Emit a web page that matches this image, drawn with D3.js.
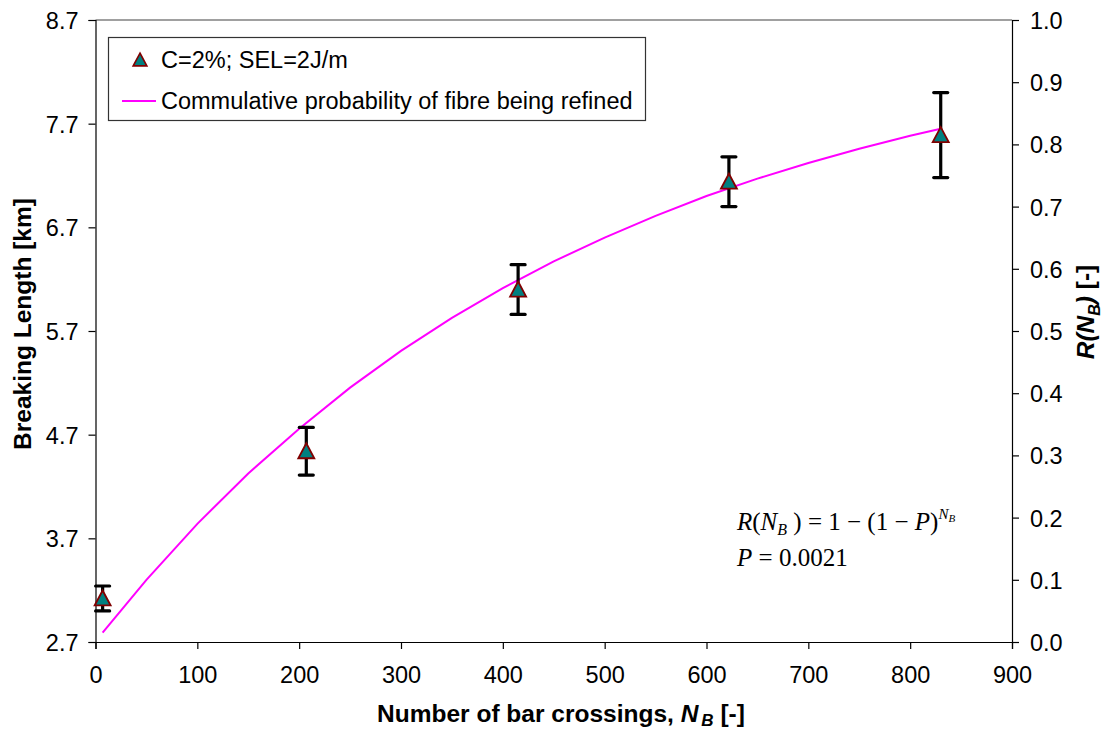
<!DOCTYPE html>
<html>
<head>
<meta charset="utf-8">
<script src="https://cdn.jsdelivr.net/npm/d3@7"></script>
<style>
  body { margin: 0; background: #fff; }
  text { font-family: "Liberation Sans", Arial, sans-serif; }
</style>
</head>
<body>
<div id="chart-area"></div>
<script>
// measured points: number of bar crossings vs breaking length (km)
const crossings = [7, 207, 415, 622, 830]
const breakingLength = [3.12, 4.54, 6.10, 7.14, 7.59]
const errLength = [0.12, 0.23, 0.24, 0.24, 0.41]

// cumulative probability curve (right axis)
const curveN = [7, 50, 100, 150, 200, 250, 300, 350, 400, 450, 500, 550, 600, 650, 700, 750, 800, 830]
const curveR = [0.015, 0.100, 0.190, 0.271, 0.343, 0.409, 0.468, 0.521, 0.569, 0.612, 0.650, 0.685, 0.717, 0.745, 0.770, 0.793, 0.814, 0.825]

const xTicks = [0, 100, 200, 300, 400, 500, 600, 700, 800, 900]
const yLeftTicks = [2.7, 3.7, 4.7, 5.7, 6.7, 7.7, 8.7]
const yRightTicks = [0, 0.1, 0.2, 0.3, 0.4, 0.5, 0.6, 0.7, 0.8, 0.9, 1.0]

const W = 1104, H = 730
const MARGIN = { LEFT: 95.5, RIGHT: 92, TOP: 20, BOTTOM: 88 }
const WIDTH = W - MARGIN.LEFT - MARGIN.RIGHT
const HEIGHT = H - MARGIN.TOP - MARGIN.BOTTOM
const FS = "23.5px"

const svg = d3.select("#chart-area").append("svg")
  .attr("width", W)
  .attr("height", H)

const g = svg.append("g")
  .attr("transform", `translate(${MARGIN.LEFT}, ${MARGIN.TOP})`)

const x = d3.scaleLinear().domain([0, 900]).range([0, WIDTH])
const y = d3.scaleLinear().domain([2.7, 8.7]).range([HEIGHT, 0])
const y2 = d3.scaleLinear().domain([0, 1]).range([HEIGHT, 0])

// top border (gray)
g.append("line")
  .attr("x1", 0).attr("x2", WIDTH)
  .attr("y1", 0).attr("y2", 0)
  .attr("stroke", "#808080").attr("stroke-width", 1.5)

// axes
const xAxis = g.append("g")
  .attr("transform", `translate(0, ${HEIGHT})`)
  .call(d3.axisBottom(x).tickValues(xTicks).tickSizeOuter(0).tickSize(7).tickPadding(17))
const yAxis = g.append("g")
  .call(d3.axisLeft(y).tickValues(yLeftTicks).tickFormat(d3.format(".1f")).tickSizeOuter(0).tickSize(7).tickPadding(10))
const yAxis2 = g.append("g")
  .attr("transform", `translate(${WIDTH}, 0)`)
  .call(d3.axisRight(y2).tickValues(yRightTicks).tickFormat(d3.format(".1f")).tickSizeOuter(0).tickSize(7).tickPadding(11))

g.selectAll(".domain, .tick line").attr("stroke", "#000").attr("stroke-width", 1.2)
g.selectAll(".tick text")
  .attr("font-size", FS)
  .attr("fill", "#000")
  .style("font-family", "'Liberation Sans', Arial, sans-serif")
yAxis.selectAll(".tick text").attr("dy", "0.36em")
yAxis2.selectAll(".tick text").attr("dy", "0.36em")

// curve
const line = d3.line()
  .x((d, i) => x(curveN[i]))
  .y(d => y2(d))
g.append("path")
  .datum(curveR)
  .attr("d", line)
  .attr("fill", "none")
  .attr("stroke", "#ff00ff")
  .attr("stroke-width", 2)

// error bars
const pts = crossings.map((n, i) => ({ n: n, v: breakingLength[i], e: errLength[i] }))
const eb = g.selectAll(".err").data(pts).enter().append("g").attr("class", "err")
eb.append("line")
  .attr("x1", d => x(d.n)).attr("x2", d => x(d.n))
  .attr("y1", d => y(d.v + d.e)).attr("y2", d => y(d.v - d.e))
  .attr("stroke", "#000").attr("stroke-width", 3.2)
eb.selectAll(".cap").data(d => [[d.n, d.v + d.e], [d.n, d.v - d.e]]).enter().append("line")
  .attr("x1", d => x(d[0]) - 7).attr("x2", d => x(d[0]) + 7)
  .attr("y1", d => y(d[1])).attr("y2", d => y(d[1]))
  .attr("stroke", "#000").attr("stroke-width", 3.2).attr("stroke-linecap", "round")

// triangle markers
const tri = "M0,-8L8,7L-8,7Z"
g.selectAll(".marker").data(pts).enter().append("path")
  .attr("class", "marker")
  .attr("d", tri)
  .attr("transform", d => `translate(${x(d.n)}, ${y(d.v)})`)
  .attr("fill", "#008080")
  .attr("stroke", "#800000")
  .attr("stroke-width", 1.8)

// axis titles
svg.append("text")
  .attr("transform", `translate(31, 324) rotate(-90)`)
  .attr("text-anchor", "middle")
  .attr("font-size", "24.5px")
  .attr("font-weight", "bold")
  .text("Breaking Length [km]")

const rt = svg.append("text")
  .attr("transform", `translate(1094, 312) rotate(-90)`)
  .attr("text-anchor", "middle")
  .attr("font-size", "24.5px")
  .attr("font-weight", "bold")
rt.append("tspan").attr("font-style", "italic").text("R(N")
rt.append("tspan").attr("font-style", "italic").attr("font-size", "16px").attr("dy", 6).text("B")
rt.append("tspan").attr("font-style", "italic").attr("dy", -6).text(")")
rt.append("tspan").text("  [-]")

const xt = svg.append("text")
  .attr("x", 561)
  .attr("y", 722)
  .attr("text-anchor", "middle")
  .attr("font-size", "24.5px")
  .attr("font-weight", "bold")
xt.append("tspan").text("Number of bar crossings, ")
xt.append("tspan").attr("font-style", "italic").text("N")
xt.append("tspan").attr("font-style", "italic").attr("font-size", "17px").attr("dy", 4).attr("dx", 3).text("B")
xt.append("tspan").attr("dy", -4).text("  [-]")

// legend
const leg = svg.append("g")
leg.append("rect")
  .attr("x", 108.5).attr("y", 37.5)
  .attr("width", 537).attr("height", 83)
  .attr("fill", "#fff")
  .attr("stroke", "#333").attr("stroke-width", 1.2)
leg.append("path")
  .attr("d", tri)
  .attr("transform", "translate(140, 60) scale(0.85)")
  .attr("fill", "#008080").attr("stroke", "#800000").attr("stroke-width", 2)
leg.append("text")
  .attr("x", 161).attr("y", 68)
  .attr("font-size", FS)
  .text("C=2%; SEL=2J/m")
leg.append("line")
  .attr("x1", 122).attr("x2", 156)
  .attr("y1", 101).attr("y2", 101)
  .attr("stroke", "#ff00ff").attr("stroke-width", 2)
leg.append("text")
  .attr("x", 161).attr("y", 109)
  .attr("font-size", FS)
  .text("Commulative probability of fibre being refined")

// formula
const serif = "'Liberation Serif', 'Times New Roman', serif"
const f1 = svg.append("text")
  .attr("x", 737).attr("y", 530)
  .attr("font-size", "25px")
  .style("font-family", serif)
f1.append("tspan").attr("font-style", "italic").text("R")
f1.append("tspan").text("(")
f1.append("tspan").attr("font-style", "italic").text("N")
f1.append("tspan").attr("font-style", "italic").attr("font-size", "16px").attr("dy", 5).text("B")
f1.append("tspan").attr("dy", -5).text(" ) = 1 − (1 − ")
f1.append("tspan").attr("font-style", "italic").text("P")
f1.append("tspan").text(")")
f1.append("tspan").attr("font-style", "italic").attr("font-size", "15px").attr("dy", -11).text("N")
f1.append("tspan").attr("font-style", "italic").attr("font-size", "11px").attr("dy", 3).text("B")

const f2 = svg.append("text")
  .attr("x", 737).attr("y", 566)
  .attr("font-size", "25px")
  .style("font-family", serif)
f2.append("tspan").attr("font-style", "italic").text("P")
f2.append("tspan").text(" = 0.0021")
</script>
</body>
</html>
